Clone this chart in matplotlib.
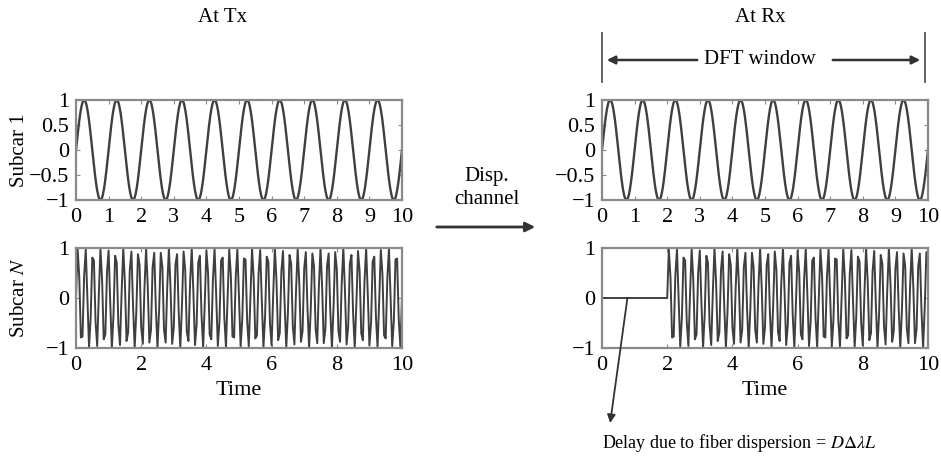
import numpy as np
import matplotlib
matplotlib.use("Agg")
import matplotlib.pyplot as plt

plt.rcParams['font.family'] = ['Liberation Serif', 'DejaVu Serif']
plt.rcParams['mathtext.fontset'] = 'stix'

# signal description
t_end = 10.0          # time span shown
f_sub1 = 1.0          # subcarrier 1: 10 cycles over 0..10
f_subN = 4.3          # subcarrier N: dense, ~4 strokes per time unit
dt_sub1 = 0.01
dt_subN = 0.05        # coarse sampling gives the moire pattern
delay = 2.0           # dispersion delay of subcarrier N at Rx

top_yticks = [-1, -0.5, 0, 0.5, 1]
top_xticks = list(range(0, 11, 1))
bot_yticks = [-1, 0, 1]
bot_xticks = list(range(0, 11, 2))

line_col = '#3f3f3f'
frame_col = '#8a8a8a'
fs = 16

t1 = np.arange(0, t_end + dt_sub1, dt_sub1)
sub1 = np.sin(2 * np.pi * f_sub1 * t1)
tN = np.arange(0, t_end + dt_subN / 2, dt_subN)
subN = np.sin(2 * np.pi * f_subN * tN)
subN_rx = np.where(tN < delay, 0.0, np.sin(2 * np.pi * f_subN * (tN - delay)))

fig = plt.figure(figsize=(9.41, 4.61), dpi=100)
W, H = 941.0, 461.0


def make_ax(x0, y0, x1, y1):
    return fig.add_axes([x0 / W, 1 - y1 / H, (x1 - x0) / W, (y1 - y0) / H])


def style(ax, xt, yt):
    ax.set_xlim(0, 10)
    ax.set_ylim(-1, 1)
    ax.set_xticks(xt)
    ax.set_yticks(yt)
    ax.set_yticklabels([('%g' % v).replace('-', '\u2212') for v in yt])
    for s in ax.spines.values():
        s.set_color(frame_col)
        s.set_linewidth(1.6)
    ax.tick_params(direction='in', length=3, color=frame_col, labelsize=fs,
                   top=True, right=True)
    ax.tick_params(axis='x', pad=6)
    ax.tick_params(axis='y', pad=5)


ax_tl = make_ax(76, 100, 402, 200)
ax_bl = make_ax(76, 248, 402, 348)
ax_tr = make_ax(602, 100, 928, 200)
ax_br = make_ax(602, 248, 928, 348)

ax_tl.plot(t1, sub1, color=line_col, lw=1.7)
ax_tr.plot(t1, sub1, color=line_col, lw=1.7)
ax_bl.plot(tN, subN, color=line_col, lw=1.4)
ax_br.plot(tN, subN_rx, color=line_col, lw=1.4)

style(ax_tl, top_xticks, top_yticks)
style(ax_tr, top_xticks, top_yticks)
style(ax_bl, bot_xticks, bot_yticks)
style(ax_br, bot_xticks, bot_yticks)

ax_tl.set_ylabel('Subcar 1', fontsize=15, labelpad=0)
ax_bl.set_ylabel('Subcar $\\mathit{N}$', fontsize=15, labelpad=12)
ax_bl.set_xlabel('Time', fontsize=16, labelpad=4)
ax_br.set_xlabel('Time', fontsize=16, labelpad=4)

# titles
fig.text(223 / W, 1 - 18 / H, 'At Tx', ha='center', va='center', fontsize=15)
fig.text(760 / W, 1 - 18 / H, 'At Rx', ha='center', va='center', fontsize=15)

# DFT window marker
for xp in (602, 925):
    fig.add_artist(plt.Line2D([xp / W, xp / W], [1 - 33 / H, 1 - 82 / H],
                              color='#555555', lw=1.3))
arrow_kw = dict(arrowstyle='-|>', color='#333333', lw=1.8, mutation_scale=12)
ax_tr.annotate('', xy=(604 / W, 1 - 60 / H), xytext=(700 / W, 1 - 60 / H),
               xycoords='figure fraction', textcoords='figure fraction',
               arrowprops=arrow_kw)
ax_tr.annotate('', xy=(923 / W, 1 - 60 / H), xytext=(830 / W, 1 - 60 / H),
               xycoords='figure fraction', textcoords='figure fraction',
               arrowprops=arrow_kw)
fig.text(760 / W, 1 - 60 / H, 'DFT window', ha='center', va='center',
         fontsize=15, bbox=dict(fc='white', ec='none', pad=2))

# channel arrow
fig.text(487 / W, 1 - 188 / H, 'Disp.\nchannel', ha='center', va='center',
         fontsize=15, linespacing=1.25)
ax_tl.annotate('', xy=(538 / W, 1 - 227 / H), xytext=(434 / W, 1 - 227 / H),
               xycoords='figure fraction', textcoords='figure fraction',
               arrowprops=dict(arrowstyle='-|>', color='#333333', lw=2.0,
                               mutation_scale=14))

# delay annotation
ax_br.annotate('', xy=(0.25, -2.5), xytext=(0.78, 0.0),
               xycoords='data', textcoords='data', annotation_clip=False,
               arrowprops=dict(arrowstyle='-|>', color='#333333', lw=1.3,
                               mutation_scale=12, shrinkA=0, shrinkB=0))
fig.text(602 / W, 1 - 443 / H,
         'Delay due to fiber dispersion = $\\mathit{D}\\Delta\\lambda \\mathit{L}$',
         ha='left', va='center', fontsize=13)

fig.savefig('out.png', dpi=100, facecolor='white')
